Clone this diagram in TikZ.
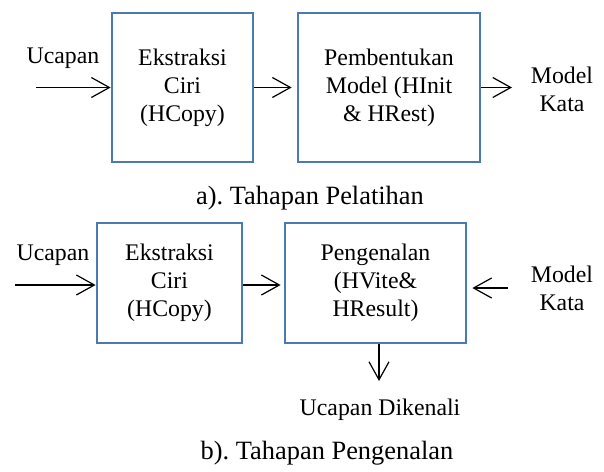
\documentclass[tikz,border=0pt]{standalone}
\usepackage{fontspec}
\setmainfont{Liberation Serif}
\newfontfamily\tpserif{Liberation Serif}
\usepackage{tikz}
\usetikzlibrary{arrows.meta,positioning}
\definecolor{tpEdge}{HTML}{4A7AB0}
\frenchspacing
\tikzset{
  tp diagram/.style={x=0.5pt, y=-0.5pt, font=\tpserif\fontsize{11.9}{14}\selectfont},
  tp box/.style={draw=tpEdge, fill=white, line width=1.4pt,
    align=center, inner sep=0pt},
  tp arrow/.style={-{Straight Barb[length=9pt,width=10pt,line width=0.6pt]},
    draw=black, line width=0.7pt},
  tp label/.style={align=center, inner sep=1pt},
  tp caption/.style={font=\tpserif\fontsize{13.2}{16}\selectfont, inner sep=1pt}
}

\begin{document}
\begin{tikzpicture}[tp diagram]
\useasboundingbox (0,0) rectangle (604,471);
% a) tahapan pelatihan
\node[tp box,minimum width=70.5pt,minimum height=74.5pt] (ekstrA) at (182.5,87.5) {Ekstraksi\\Ciri\\(HCopy)};
\node[tp box,minimum width=91pt,minimum height=74.5pt] (bentuk) at (389,87.5) {Pembentukan\\Model (HInit\\\& HRest)};
\node[tp label] (ucA) at (63,58) {Ucapan};
\node[tp label] (modA) at (562,89) {Model\\Kata};
\node[tp caption] (capA) at (310,198) {a). Tahapan Pelatihan};
\coordinate (inA) at (36,87.5);
\coordinate (outA) at (512,87.5);
\draw[tp arrow] (inA) -- (inA -| ekstrA.west);
\draw[tp arrow] (ekstrA.east) -- ([xshift=-2.5pt]bentuk.west);
\draw[tp arrow] (bentuk.east) -- (outA);
% b) tahapan pengenalan
\node[tp box,minimum width=72.5pt,minimum height=60pt] (ekstrB) at (169.5,283) {Ekstraksi\\Ciri\\(HCopy)};
\node[tp box,minimum width=90.5pt,minimum height=60pt] (kenal) at (375.5,283) {Pengenalan\\(HVite\&\\HResult)};
\node[tp label] (ucB) at (53,255) {Ucapan};
\node[tp label] (modB) at (562,288) {Model\\Kata};
\node[tp label] (hasil) at (380,410) {Ucapan Dikenali};
\node[tp caption] (capB) at (327,453) {b). Tahapan Pengenalan};
\coordinate (inB) at (15,285);
\coordinate (modelB) at (508,288);
\coordinate (hasilB) at (379,381);
\draw[tp arrow] (inB) -- (inB -| ekstrB.west);
\draw[tp arrow] (ekstrB.east |- inB) -- ([xshift=-1.5pt]inB -| kenal.west);
\draw[tp arrow] (modelB) -- ([xshift=2.5pt]modelB -| kenal.east);
\draw[tp arrow] (hasilB |- kenal.south) -- (hasilB);
\end{tikzpicture}
\end{document}
